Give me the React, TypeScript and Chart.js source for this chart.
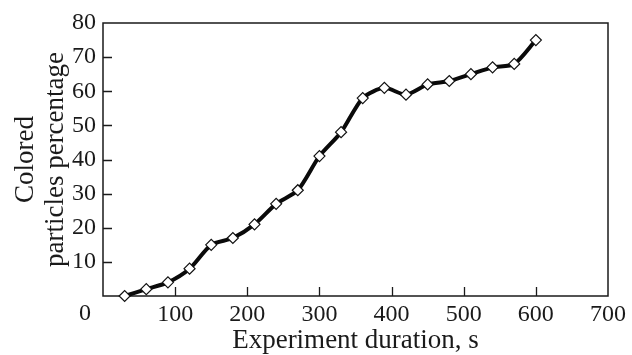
import React, { useEffect, useRef } from 'react';
import { Chart, registerables } from 'chart.js';

Chart.register(...registerables);

const durations = [30, 60, 90, 120, 150, 180, 210, 240, 270, 300, 330, 360, 390, 420, 450, 480, 510, 540, 570, 600];
const percentages = [0, 2, 4, 8, 15, 17, 21, 27, 31, 41, 48, 58, 61, 59, 62, 63, 65, 67, 68, 75];
const xTickValues = [100, 200, 300, 400, 500, 600];
const yTickValues = [10, 20, 30, 40, 50, 60, 70];
const xTitle = 'Experiment duration, s';
const yTitle = ['Colored', 'particles percentage'];

const FONT = '"Liberation Serif", "Times New Roman", serif';
const INK = '#1a1a1a';

const framePlugin = {
  id: 'frame',
  beforeDatasetsDraw(chart: any) {
    const { ctx, chartArea: a, scales } = chart;
    ctx.save();
    ctx.strokeStyle = INK;
    ctx.lineWidth = 1.5;
    ctx.strokeRect(a.left, a.top, a.right - a.left, a.bottom - a.top);
    ctx.lineWidth = 1.3;
    ctx.beginPath();
    for (const v of xTickValues) {
      const px = Math.round(scales.x.getPixelForValue(v)) + 0.5;
      ctx.moveTo(px, a.bottom);
      ctx.lineTo(px, a.bottom - 9);
    }
    for (const v of yTickValues) {
      const py = Math.round(scales.y.getPixelForValue(v)) + 0.5;
      ctx.moveTo(a.left, py);
      ctx.lineTo(a.left + 9, py);
    }
    ctx.stroke();
    // origin label of the x axis, set off to the left of the frame
    ctx.fillStyle = INK;
    ctx.font = `24px ${FONT}`;
    ctx.textAlign = 'center';
    ctx.textBaseline = 'top';
    ctx.fillText('0', a.left - 18, a.bottom + 6);
    ctx.restore();
  },
};

export default function App() {
  const ref = useRef<HTMLCanvasElement>(null);
  useEffect(() => {
    document.body.style.margin = '0';
    const chart = new Chart(ref.current!, {
      type: 'line',
      data: {
        datasets: [
          {
            data: durations.map((d, i) => ({ x: d, y: percentages[i] })),
            borderColor: '#0a0a0a',
            borderWidth: 4,
            tension: 0.25,
            pointStyle: 'rectRot',
            pointRadius: 5.5,
            pointBorderWidth: 1.2,
            pointBackgroundColor: '#ffffff',
            pointBorderColor: '#111111',
            clip: false as any,
          },
        ],
      },
      plugins: [framePlugin],
      options: {
        animation: false,
        responsive: false,
        events: [],
        layout: { padding: { top: 23, right: 18, left: 11, bottom: 0 } },
        plugins: { legend: { display: false }, tooltip: { enabled: false } },
        scales: {
          x: {
            type: 'linear',
            min: 0,
            max: 700,
            afterFit: (s: any) => { s.height = 59; },
            grid: { display: false, drawTicks: false },
            border: { display: false },
            ticks: {
              stepSize: 100,
              padding: 6,
              color: INK,
              font: { family: FONT, size: 24, lineHeight: 1.1 },
              callback: (v: any) => (v === 0 ? '' : String(v)),
              maxRotation: 0,
            },
            title: {
              display: true,
              text: xTitle,
              color: INK,
              font: { family: FONT, size: 27, lineHeight: 1.0 },
              padding: { top: 0, bottom: 1 },
            },
          },
          y: {
            min: 0,
            max: 80,
            afterFit: (s: any) => { s.width = 92; },
            grid: { display: false, drawTicks: false },
            border: { display: false },
            ticks: {
              stepSize: 10,
              padding: 7,
              color: INK,
              font: { family: FONT, size: 24 },
              callback: (v: any) => (v === 0 ? '' : String(v)),
            },
            title: {
              display: true,
              text: yTitle,
              color: INK,
              font: { family: FONT, size: 27, lineHeight: 1.1 },
              padding: { top: 0, bottom: 0 },
            },
          },
        },
      },
    });
    return () => chart.destroy();
  }, []);
  return <canvas ref={ref} width={632} height={355} style={{ display: 'block' }} />;
}
